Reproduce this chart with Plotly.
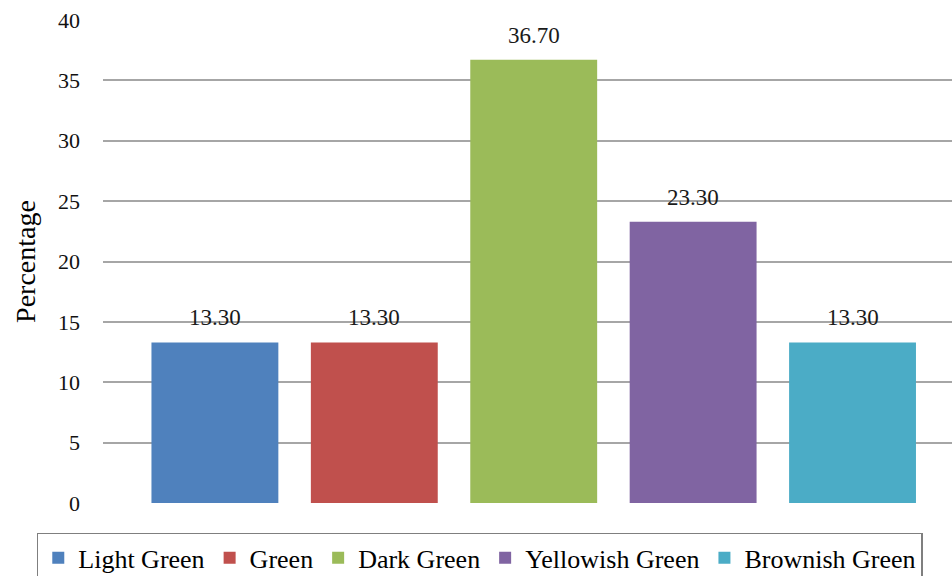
import plotly.graph_objects as go

categories = ["Light Green", "Green", "Dark Green", "Yellowish Green", "Brownish Green"]
values = [13.30, 13.30, 36.70, 23.30, 13.30]
colors = ["#4F81BD", "#C0504D", "#9BBB59", "#8064A2", "#4BACC6"]
y_ticks = [0, 5, 10, 15, 20, 25, 30, 35, 40]

SERIF = "'Liberation Serif', 'Times New Roman', serif"

fig = go.Figure()
for name, val, col in zip(categories, values, colors):
    fig.add_trace(go.Bar(
        x=[name], y=[val], name=name,
        marker=dict(color=col, line=dict(width=0)),
        width=0.796,
    ))

# value labels above each bar
for name, val in zip(categories, values):
    fig.add_annotation(
        x=name, y=val, text=f"{val:.2f}", showarrow=False,
        yanchor="bottom", yshift=10,
        font=dict(family=SERIF, size=23, color="#1a1a1a"),
    )

fig.update_layout(
    width=952, height=576,
    paper_bgcolor="white", plot_bgcolor="white",
    margin=dict(l=103, r=0, t=20, b=73, autoexpand=False),
    showlegend=True,
    barmode="overlay",
    font=dict(family=SERIF, color="#111111"),
    legend=dict(
        orientation="h", x=-0.078, xanchor="left", y=-0.062, yanchor="top",
        bordercolor="#7F7F7F", borderwidth=1.5,
        font=dict(family=SERIF, size=26, color="#000000"),
        itemwidth=30, tracegroupgap=0,
    ),
    xaxis=dict(
        type="category", categoryorder="array", categoryarray=categories,
        range=[-0.702, 4.624], showticklabels=False, showgrid=False,
        zeroline=False, showline=False, ticks="",
    ),
    yaxis=dict(
        range=[0, 40], tickvals=y_ticks, showgrid=True,
        gridcolor="#A6A6A6", gridwidth=1.5, zeroline=False,
        showline=False, ticks="", ticklabelstandoff=22,
        tickfont=dict(family=SERIF, size=22, color="#111111"),
        title=dict(text="Percentage", font=dict(family=SERIF, size=28, color="#000000"), standoff=14),
    ),
)

fig.write_html("out.html")
